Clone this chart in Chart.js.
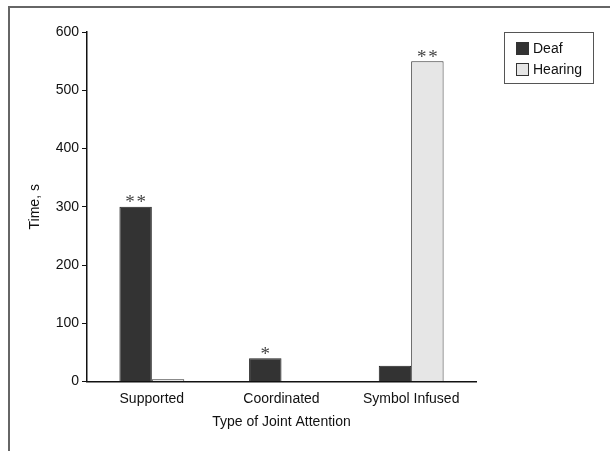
<!DOCTYPE html>
<html>
<head>
<meta charset="utf-8">
<script src="https://cdn.jsdelivr.net/npm/chart.js@4"></script>
<style>
  html, body { margin: 0; padding: 0; background: #fff; }
  #wrap { position: relative; width: 610px; height: 451px; }
</style>
</head>
<body>
<div id="wrap"><canvas id="chart"></canvas></div>
<script>
// data
const categories = ["Supported", "Coordinated", "Symbol Infused"];
const deafValues = [300, 40, 27];
const hearingValues = [4, 1, 550];
const deafStars = ["**", "*", ""];
const hearingStars = ["", "", "**"];
const yTicks = [0, 100, 200, 300, 400, 500, 600];

const FONT = "'Liberation Sans', Arial, sans-serif";

// frame round the figure (cut off at right and bottom)
const framePlugin = {
    id: "frame",
    beforeDraw(chart) {
        const ctx = chart.ctx;
        ctx.save();
        ctx.strokeStyle = "#666";
        ctx.lineWidth = 2;
        ctx.beginPath();
        ctx.moveTo(9, chart.height);
        ctx.lineTo(9, 7);
        ctx.lineTo(chart.width, 7);
        ctx.stroke();
        ctx.restore();
    }
};

// significance stars above the bars
const starsPlugin = {
    id: "stars",
    afterDatasetsDraw(chart) {
        const ctx = chart.ctx;
        ctx.save();
        ctx.font = "19px 'Liberation Serif', serif";
        ctx.fillStyle = "#444";
        ctx.textAlign = "center";
        ctx.textBaseline = "bottom";
        chart.data.datasets.forEach(function (ds, di) {
            const meta = chart.getDatasetMeta(di);
            ds.stars.forEach(function (s, i) {
                if (!s) return;
                const bar = meta.data[i];
                ctx.fillText(s.split("").join("\u200A"), bar.x, bar.y + 6);
            });
        });
        ctx.restore();
    }
};

// boxed legend in the upper right
const legendPlugin = {
    id: "boxLegend",
    afterDraw(chart) {
        const ctx = chart.ctx;
        const x0 = chart.chartArea.right + 28;
        const y0 = 32;
        ctx.save();
        ctx.strokeStyle = "#555";
        ctx.lineWidth = 1;
        ctx.strokeRect(x0 + 0.5, y0 + 0.5, 89, 51);
        ctx.font = "14px " + FONT;
        ctx.textBaseline = "middle";
        chart.data.datasets.forEach(function (ds, i) {
            const cy = y0 + 16 + i * 21;
            ctx.fillStyle = ds.backgroundColor;
            ctx.fillRect(x0 + 12.5, cy - 6, 12, 12);
            ctx.strokeStyle = "#333";
            ctx.strokeRect(x0 + 12.5, cy - 6 + 0.5, 12, 12);
            ctx.fillStyle = "#111";
            ctx.fillText(ds.label, x0 + 29, cy + 1);
        });
        ctx.restore();
    }
};

new Chart(document.getElementById("chart"), {
    type: "bar",
    data: {
        labels: categories,
        datasets: [{
            label: "Deaf",
            data: deafValues,
            stars: deafStars,
            backgroundColor: "#333333",
            borderColor: "#222222",
            borderWidth: 1
        }, {
            label: "Hearing",
            data: hearingValues,
            stars: hearingStars,
            backgroundColor: "#e6e6e6",
            borderColor: "#333333",
            borderWidth: 1
        }]
    },
    options: {
        responsive: true,
        maintainAspectRatio: false,
        animation: false,
        layout: { padding: { left: 27, right: 134, top: 32, bottom: 16 } },
        datasets: { bar: { categoryPercentage: 0.5, barPercentage: 1.0 } },
        scales: {
            x: {
                grid: { display: false, drawTicks: false },
                border: { color: "#111", width: 1.5 },
                ticks: { color: "#111", padding: 9, font: { family: FONT, size: 14 } },
                title: { display: true, text: "Type of Joint Attention", color: "#111", padding: 4,
                         font: { family: FONT, size: 14 } },
                afterFit(scale) { scale.height = 53.5; }
            },
            y: {
                min: 0,
                max: 600,
                afterBuildTicks(scale) { scale.ticks = yTicks.map(function (v) { return { value: v }; }); },
                grid: { drawOnChartArea: false, drawTicks: true, tickLength: 5, color: "#111" },
                border: { color: "#111", width: 1.5 },
                ticks: { color: "#111", padding: 3, font: { family: FONT, size: 14 } },
                title: { display: true, text: "Time, s", color: "#111", padding: 0,
                         font: { family: FONT, size: 14 } },
                afterFit(scale) { scale.width = 60; }
            }
        },
        plugins: {
            legend: { display: false },
            tooltip: { enabled: false }
        }
    },
    plugins: [framePlugin, starsPlugin, legendPlugin]
});
</script>
</body>
</html>
